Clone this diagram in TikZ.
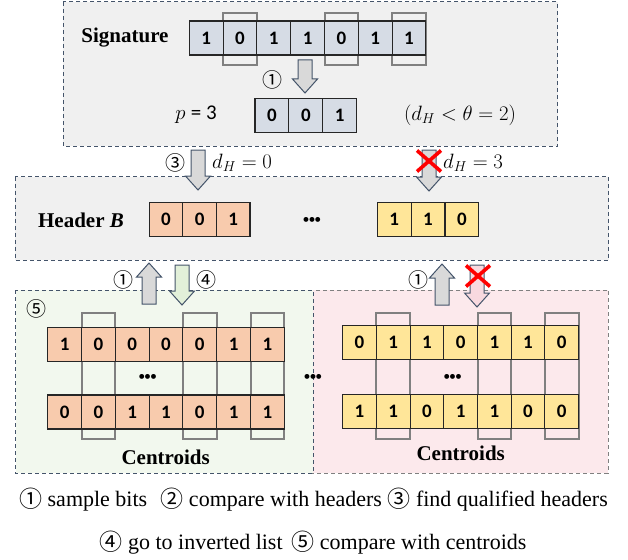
\documentclass[tikz,border=0pt]{standalone}
\usepackage{fontspec}
\setmainfont{Liberation Serif}
\newfontfamily\cellfont{Carlito}
\newfontfamily\symfont{Noto Sans CJK SC}
\newfontfamily\dotfont{Liberation Sans}

\definecolor{boxline}{HTML}{44546A}
\definecolor{panelgray}{HTML}{F0F0F0}
\definecolor{sigblue}{HTML}{D6DCE5}
\definecolor{hdrorange}{HTML}{F8CBAD}
\definecolor{hdryellow}{HTML}{FFE699}
\definecolor{greenpanel}{HTML}{F2F8EE}
\definecolor{pinkpanel}{HTML}{FCE9EC}
\definecolor{arrowgray}{HTML}{D9D9D9}
\definecolor{arrowgreen}{HTML}{E2F0D9}
\definecolor{arrowpink}{HTML}{F8D9DF}
\definecolor{pickgray}{HTML}{808080}

% circled step number used inside the legend lines
\newcommand\stepmark[1]{\raisebox{-0.05em}{\symfont\fontsize{23}{23}\selectfont #1}}

% block arrows: x centre, y of tail/tip, fill colour
\newcommand\blockdown[4]{%
  \draw[blk, fill=#4] (#1-7,#2) -- (#1+7,#2) -- (#1+7,#3-14) -- (#1+12.5,#3-14)
    -- (#1,#3) -- (#1-12.5,#3-14) -- (#1-7,#3-14) -- cycle;}
\newcommand\blockup[4]{%
  \draw[blk, fill=#4] (#1,#2) -- (#1+12.5,#2+14) -- (#1+7,#2+14) -- (#1+7,#3)
    -- (#1-7,#3) -- (#1-7,#2+14) -- (#1-12.5,#2+14) -- cycle;}
% red rejection cross centred at (#1,#2)
\newcommand\rejectmark[2]{%
  \draw[cross] (#1-12,#2-10.5) -- (#1+12,#2+10.5) (#1-12,#2+10.5) -- (#1+12,#2-10.5);}

\tikzset{
  panel/.style={draw=boxline, dash pattern=on 4pt off 3pt, line width=1pt},
  cell/.style={draw=black!85, line width=1.1pt, minimum height=34pt, inner sep=0pt,
    font=\cellfont\bfseries\fontsize{19}{22}\selectfont},
  pick/.style={draw=pickgray, line width=2pt},
  title/.style={font=\bfseries\fontsize{21}{25}\selectfont, inner sep=0pt},
  circnum/.style={font=\symfont\fontsize{20}{22}\selectfont, inner sep=0pt},
  mathlbl/.style={font=\fontsize{21}{25}\selectfont, inner sep=0pt},
  dots/.style={font=\dotfont\bfseries\fontsize{17}{20}\selectfont, inner sep=0pt},
  legend/.style={font=\fontsize{22}{27}\selectfont, inner sep=0pt},
  blk/.style={draw=boxline, line width=1pt, line join=miter},
  cross/.style={draw=red, line width=3.6pt},
}

\begin{document}
\begin{tikzpicture}[x=1pt, y=-1pt]
\useasboundingbox (0,0) rectangle (628,559);

% ---------- query panel ----------
\draw[panel, fill=panelgray] (63,2) rectangle (557.7,146);
\node[title] (sigtitle) at (125,38) {Signature};
\foreach \c in {2,5,7}
  \draw[pick] ({189.3+(\c-1)*33.8},12.7) rectangle ({189.3+\c*33.8},65);
\foreach \d [count=\i] in {1,0,1,1,0,1,1}
  \node[cell, fill=sigblue, minimum width=33.8pt] (sig-\i) at ({189.3+(\i-0.5)*33.8},38) {\d};
\blockdown{305}{60}{93}{arrowgray}
\node[circnum] (s1a) at (272,80) {①};
\node[mathlbl] (plabel) at (196,115) {$p$ {\cellfont = 3}};
\foreach \d [count=\i] in {0,0,1}
  \node[cell, fill=sigblue, minimum width=33.9pt] (smp-\i) at ({255+(\i-0.5)*33.9},115.5) {\d};
\node[mathlbl] (thr) at (460,115) {$(d_H < \theta = 2)$};

% ---------- header panel ----------
\draw[panel, fill=panelgray] (15.2,176.7) rectangle (608.8,260);
\blockdown{198}{150}{190}{arrowgray}
\node[circnum] (s3) at (175,163) {③};
\node[mathlbl, anchor=west] (dh0) at (212,163) {$d_H = 0$};
\blockdown{429}{150}{191}{arrowgray}
\rejectmark{429}{161}
\node[mathlbl, anchor=west] (dh3) at (443,163) {$d_H = 3$};

\node[title] (hdrtitle) at (81,220) {Header \textit{B}};
\foreach \d [count=\i] in {0,0,1}
  \node[cell, fill=hdrorange, minimum width=33.6pt] (ho-\i) at ({149.2+(\i-0.5)*33.6},219.5) {\d};
\node[dots] (hdots) at (312,221) {•••};
\foreach \d [count=\i] in {1,1,0}
  \node[cell, fill=hdryellow, minimum width=33.9pt] (hy-\i) at ({377.2+(\i-0.5)*33.9},219.5) {\d};

% ---------- inverted lists ----------
\draw[panel, draw=pickgray, fill=pinkpanel] (311.7,290) rectangle (608.3,473.3);
\draw[panel, fill=greenpanel] (15.7,290) rectangle (313,473.3);

\node[circnum] (s5) at (36.7,309) {⑤};
\foreach \c in {2,5,7}
  \draw[pick] ({47.7+(\c-1)*33.8},313.3) rectangle ({47.7+\c*33.8},439.3);
\foreach \d [count=\i] in {1,0,0,0,0,1,1}
  \node[cell, fill=hdrorange, minimum width=33.8pt] (ga-\i) at ({47.7+(\i-0.5)*33.8},344.7) {\d};
\foreach \d [count=\i] in {0,0,1,1,0,1,1}
  \node[cell, fill=hdrorange, minimum width=33.8pt] (gb-\i) at ({47.7+(\i-0.5)*33.8},412) {\d};
\node[dots] (gdots) at (147.7,378.3) {•••};
\node[title] (gcent) at (165.7,457.7) {Centroids};

\foreach \c in {2,5,7}
  \draw[pick] ({342.7+(\c-1)*33.7},312.7) rectangle ({342.7+\c*33.7},439.3);
\foreach \d [count=\i] in {0,1,1,0,1,1,0}
  \node[cell, fill=hdryellow, minimum width=33.7pt] (pa-\i) at ({342.7+(\i-0.5)*33.7},342.8) {\d};
\foreach \d [count=\i] in {1,1,0,1,1,0,0}
  \node[cell, fill=hdryellow, minimum width=33.7pt] (pb-\i) at ({342.7+(\i-0.5)*33.7},411.3) {\d};
\node[dots] (pdots) at (452.7,378) {•••};
\node[title] (pcent) at (460.7,453.3) {Centroids};

\node[dots] (middots) at (313,378) {•••};

% arrows between header panel and inverted lists
\blockup{149}{263}{304}{arrowgray}
\node[circnum] (s1b) at (123,280) {①};
\blockdown{182}{265}{305}{arrowgreen}
\node[circnum] (s4) at (206,280) {④};
\blockup{442}{264}{305}{arrowgray}
\node[circnum] (s1c) at (418,280) {①};
\blockdown{477}{265}{307}{arrowpink}
\rejectmark{478}{276}

% ---------- legend ----------
\node[legend] (leg1) at (313.5,500) {\stepmark{①} sample bits\hspace{0.6em}\stepmark{②} compare with headers \stepmark{③} find qualified headers};
\node[legend] (leg2) at (313,543) {\stepmark{④} go to inverted list\hspace{0.4em}\stepmark{⑤} compare with centroids};
\end{tikzpicture}
\end{document}
